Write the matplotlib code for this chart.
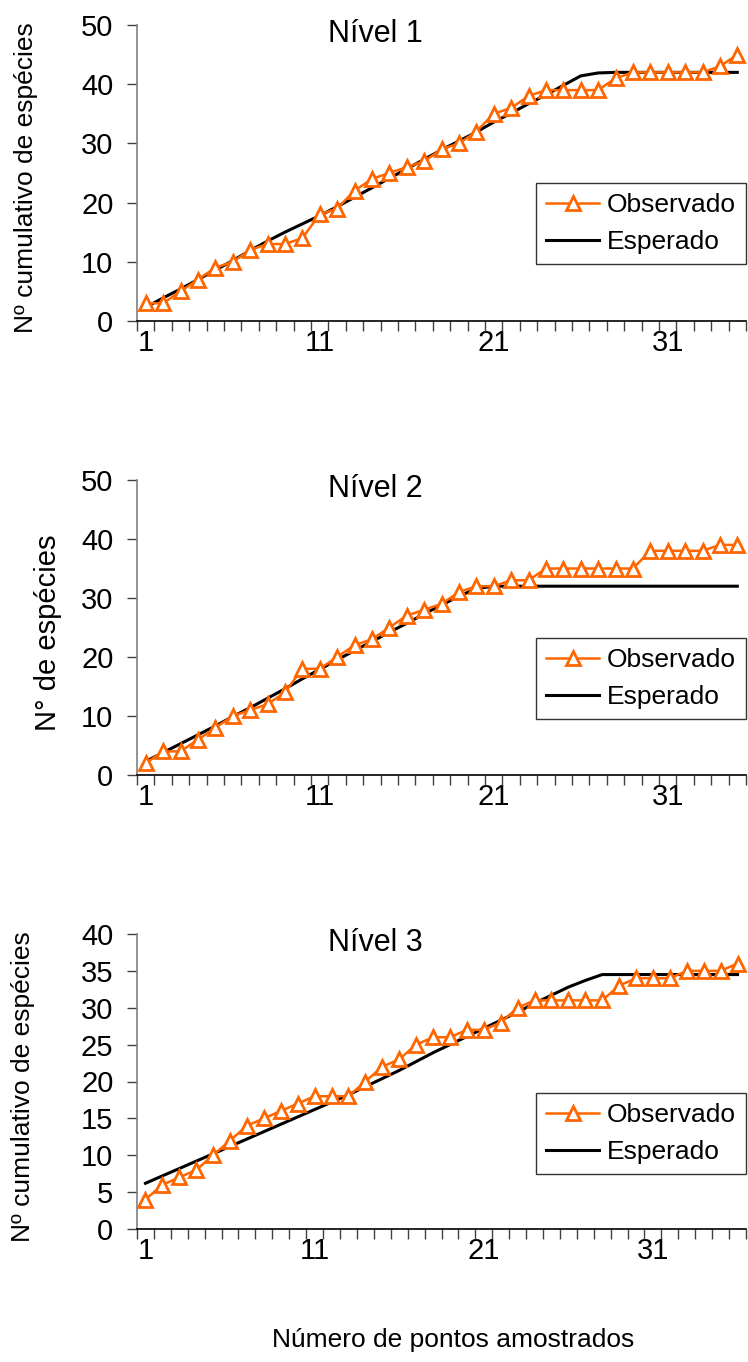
import matplotlib
matplotlib.use("Agg")
import matplotlib.pyplot as plt
import numpy as np

plt.rcParams['font.family'] = ['Liberation Sans', 'DejaVu Sans']

# cumulative species counts per sampled point
obs1 = [3, 3, 5, 7, 9, 10, 12, 13, 13, 14, 18, 19, 22, 24, 25, 26, 27, 29, 30, 32,
        35, 36, 38, 39, 39, 39, 39, 41, 42, 42, 42, 42, 42, 43, 45]
exp1 = [2.3, 3.9, 5.4, 7.0, 8.6, 10.2, 11.9, 13.5, 15.0, 16.4, 17.8, 19.3, 20.9, 22.5,
        24.1, 25.7, 27.3, 28.9, 30.4, 31.9, 33.6, 35.1, 36.7, 38.2, 39.8, 41.4, 41.9,
        42, 42, 42, 42, 42, 42, 42, 42]

obs2 = [2, 4, 4, 6, 8, 10, 11, 12, 14, 18, 18, 20, 22, 23, 25, 27, 28, 29, 31, 32,
        32, 33, 33, 35, 35, 35, 35, 35, 35, 38, 38, 38, 38, 39, 39]
exp2 = [2.3, 3.8, 5.3, 6.8, 8.3, 9.9, 11.4, 13.0, 14.6, 16.3, 17.9, 19.5, 21.1, 22.6,
        24.2, 25.7, 27.3, 28.8, 30.3, 31.6, 32, 32, 32, 32, 32, 32, 32, 32, 32, 32,
        32, 32, 32, 32, 32]

obs3 = [4, 6, 7, 8, 10, 12, 14, 15, 16, 17, 18, 18, 18, 20, 22, 23, 25, 26, 26, 27,
        27, 28, 30, 31, 31, 31, 31, 31, 33, 34, 34, 34, 35, 35, 35, 36]
exp3 = [6.2, 7.2, 8.2, 9.2, 10.2, 11.2, 12.2, 13.2, 14.2, 15.2, 16.2, 17.2, 18.2, 19.3,
        20.4, 21.5, 22.7, 23.9, 25.0, 26.1, 27.2, 28.3, 29.4, 30.6, 31.7, 32.8, 33.7,
        34.5, 34.5, 34.5, 34.5, 34.5, 34.5, 34.5, 34.5, 34.5]

titles = ['Nível 1', 'Nível 2', 'Nível 3']
ylabels = ['Nº cumulativo de espécies', 'N° de espécies', 'Nº cumulativo de espécies']
ymax = [50, 50, 40]
ystep = [10, 10, 5]
xlabel = 'Número de pontos amostrados'

W, H = 748, 1362
fig = plt.figure(figsize=(W / 100, H / 100), dpi=100)

# axes boxes in pixels: left, top, right, bottom
boxes = [(137, 25, 746, 321), (137, 480, 746, 775), (137, 934, 746, 1229)]
legend_top = [183, 638, 1093]
ylab_x = [26, 48, 23]
ylab_size = [19, 21, 19]
orange = '#FF6600'

series = [(obs1, exp1), (obs2, exp2), (obs3, exp3)]
for i, (obs, exp) in enumerate(series):
    l, t, r, b = boxes[i]
    ax = fig.add_axes([l / W, 1 - b / H, (r - l) / W, (b - t) / H])
    n = len(obs)
    x = np.arange(1, n + 1)
    ax.plot(x, obs, color=orange, lw=1.8, marker='^', ms=10, mfc='white',
            mec=orange, mew=2.0, label='Observado', zorder=3)
    ax.plot(x, exp, color='black', lw=2.2, label='Esperado', zorder=2)

    ax.set_xlim(0.5, n + 0.5)
    ax.set_ylim(0, ymax[i])
    ax.set_yticks(np.arange(0, ymax[i] + 1, ystep[i]))
    ax.set_xticks([1, 11, 21, 31])
    ax.set_xticks(np.arange(0.5, n + 1, 1), minor=True)
    ax.tick_params(axis='x', which='major', length=0, pad=6, labelsize=21)
    ax.tick_params(axis='x', which='minor', length=7, width=1, color='#404040')
    ax.tick_params(axis='y', length=7, width=1, color='#404040', pad=10, labelsize=21)

    for s in ['top', 'right']:
        ax.spines[s].set_visible(False)
    ax.spines['left'].set_color('#808080')
    ax.spines['left'].set_linewidth(1.2)
    ax.spines['bottom'].set_color('black')
    ax.spines['bottom'].set_linewidth(1.2)

    ax.text(0.392, 0.97, titles[i], transform=ax.transAxes, ha='center', va='center',
            fontsize=22)

    fig.text(ylab_x[i] / W, 1 - ((t + b) / 2 + 5) / H, ylabels[i], rotation=90,
             ha='center', va='center', fontsize=ylab_size[i])

    leg = ax.legend(loc='upper right', bbox_to_anchor=(1.0, (b - legend_top[i]) / (b - t)),
                    frameon=True, fancybox=False, fontsize=19, handlelength=2.0,
                    handletextpad=0.3, labelspacing=0.5, borderpad=0.38,
                    borderaxespad=0)
    leg.get_frame().set_edgecolor('black')
    leg.get_frame().set_linewidth(1.0)

fig.text(453 / W, 1 - 1340 / H, xlabel, ha='center', va='center', fontsize=19)

fig.savefig('out.png', dpi=100)
